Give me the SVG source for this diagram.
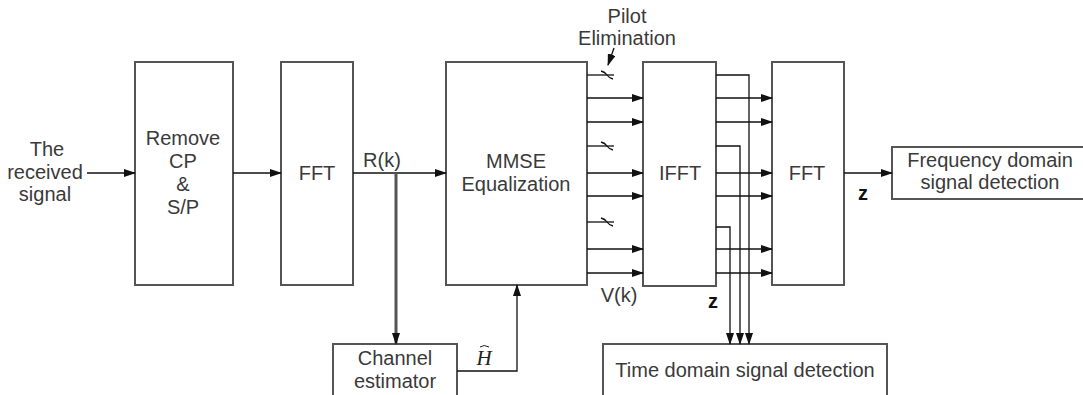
<svg xmlns="http://www.w3.org/2000/svg" width="1083" height="395" viewBox="0 0 1083 395">
<style>
.box{fill:#fff;stroke:#555;stroke-width:2}
.t{font-family:"Liberation Sans",Arial,sans-serif;font-size:20px;fill:#3a3a3a;text-anchor:middle}
.w{fill:none;stroke:#111;stroke-width:1.3}
.b{font-weight:bold;fill:#111}
</style>
<defs>
<marker id="ah" markerWidth="12" markerHeight="8" refX="11" refY="4" orient="auto" markerUnits="userSpaceOnUse">
<path d="M0,0 L12,4 L0,8 Z" fill="#111"/>
</marker>
</defs>
<rect width="1083" height="395" fill="#fff"/>
<g id="input"><text class="t" x="47" y="156">The</text><text class="t" x="45" y="179">received</text><text class="t" x="45" y="201">signal</text></g>
<g id="removecp"><rect class="box" x="135" y="62" width="98" height="223"/>
<text class="t" x="183" y="145">Remove</text><text class="t" x="183" y="168">CP</text><text class="t" x="183" y="191">&amp;</text><text class="t" x="183" y="214">S/P</text></g>
<g id="fft1"><rect class="box" x="281" y="62" width="72" height="223"/><text class="t" x="317" y="180">FFT</text></g>
<g id="mmse"><rect class="box" x="446" y="62" width="141" height="223"/><text class="t" x="516" y="168">MMSE</text><text class="t" x="516" y="191">Equalization</text></g>
<g id="ifft"><rect class="box" x="643" y="62" width="73" height="224"/><text class="t" x="680" y="180">IFFT</text></g>
<g id="fft2"><rect class="box" x="772" y="62" width="72" height="223"/><text class="t" x="807" y="180">FFT</text></g>
<g id="freqdet"><rect class="box" x="892" y="147" width="200" height="52"/><text class="t" x="990" y="167">Frequency domain</text><text class="t" x="990" y="189">signal detection</text></g>
<g id="chest"><rect class="box" x="333" y="344" width="124" height="60"/><text class="t" x="395" y="365">Channel</text><text class="t" x="395" y="388">estimator</text></g>
<g id="timedet"><rect class="box" x="603" y="344" width="284" height="60"/><text class="t" x="745" y="377">Time domain signal detection</text></g>
<g id="connectors">
<line class="w" x1="87" y1="173" x2="135" y2="173" marker-end="url(#ah)"/>
<line class="w" x1="233" y1="173" x2="281" y2="173" marker-end="url(#ah)"/>
<line class="w" x1="353" y1="173" x2="446" y2="173" marker-end="url(#ah)"/>
<line x1="396" y1="173" x2="396" y2="344" stroke="#555" stroke-width="3" marker-end="url(#ah)"/>
<polyline class="w" points="457,371 517,371 517,285" marker-end="url(#ah)"/>
<!-- MMSE to IFFT -->
<line class="w" x1="587" y1="75" x2="614" y2="75"/>
<line class="w" x1="587" y1="98" x2="643" y2="98" marker-end="url(#ah)"/>
<line class="w" x1="587" y1="122" x2="643" y2="122" stroke-width="2" marker-end="url(#ah)"/>
<line class="w" x1="587" y1="146" x2="614" y2="146"/>
<line class="w" x1="587" y1="173" x2="643" y2="173" marker-end="url(#ah)"/>
<line class="w" x1="587" y1="196" x2="643" y2="196" marker-end="url(#ah)"/>
<line class="w" x1="587" y1="222" x2="614" y2="222"/>
<line class="w" x1="587" y1="249" x2="643" y2="249" marker-end="url(#ah)"/>
<line class="w" x1="587" y1="273" x2="643" y2="273" marker-end="url(#ah)"/>
<path class="w" d="M601,71 q4,1 6,4 q2,3 6,4 M601,142 q4,1 6,4 q2,3 6,4 M601,218 q4,1 6,4 q2,3 6,4"/>
<line class="w" x1="614" y1="48" x2="608" y2="65" marker-end="url(#ah)"/>
<!-- IFFT to FFT -->
<polyline class="w" points="716,75 749,75 749,344" marker-end="url(#ah)"/>
<line class="w" x1="716" y1="98" x2="772" y2="98" marker-end="url(#ah)"/>
<line class="w" x1="716" y1="122" x2="772" y2="122" stroke-width="2" marker-end="url(#ah)"/>
<polyline class="w" points="716,146 740,146 740,344" marker-end="url(#ah)"/>
<line class="w" x1="716" y1="173" x2="772" y2="173" marker-end="url(#ah)"/>
<line class="w" x1="716" y1="196" x2="772" y2="196" marker-end="url(#ah)"/>
<polyline class="w" points="716,227 730,227 730,344" marker-end="url(#ah)"/>
<line class="w" x1="716" y1="249" x2="772" y2="249" marker-end="url(#ah)"/>
<line class="w" x1="716" y1="273" x2="772" y2="273" marker-end="url(#ah)"/>
<line class="w" x1="844" y1="173" x2="892" y2="173" marker-end="url(#ah)"/>
</g>
<g id="labels">
<text class="t" x="382" y="167">R(k)</text>
<text class="t" x="627" y="23">Pilot</text>
<text class="t" x="627" y="45">Elimination</text>
<text class="t" x="619" y="302">V(k)</text>
<text class="t b" x="713" y="308">z</text>
<text class="t b" x="863" y="200">z</text>
<text x="484" y="365" font-family="Liberation Serif,serif" font-style="italic" font-size="21" fill="#222" text-anchor="middle">H</text>
<path d="M480,347 q4,-3 9,0" fill="none" stroke="#222" stroke-width="1"/>
</g>
</svg>
